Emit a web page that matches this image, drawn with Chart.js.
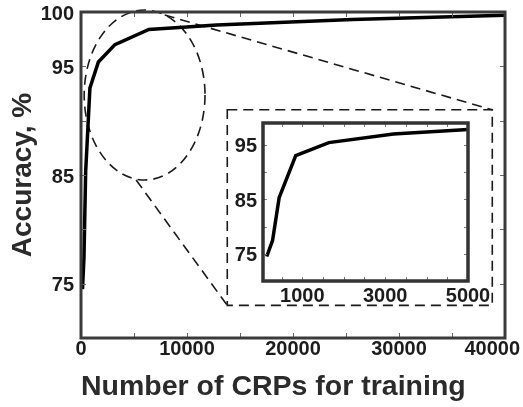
<!DOCTYPE html>
<html>
<head>
<meta charset="utf-8">
<script src="https://cdn.jsdelivr.net/npm/chart.js@4.4.0/dist/chart.umd.min.js"></script>
<style>
  html, body { margin: 0; padding: 0; background: #fff; }
  #wrap { position: relative; width: 523px; height: 407px; }
  #main { position: absolute; left: 0; top: 0; }
  #inset { position: absolute; left: 229px; top: 112px; }
</style>
</head>
<body>
<div id="wrap">
  <canvas id="main" width="523" height="407"></canvas>
  <canvas id="inset" width="262" height="192"></canvas>
</div>
<script>
// Training-set size (number of CRPs) and the accuracy reached with it
const crpCounts = [140, 280, 440, 840, 1640, 3200, 6400, 12800, 25600, 40000];
const accuracy  = [74.5, 77.4, 85.3, 93.0, 95.4, 97.0, 98.4, 98.8, 99.3, 99.7];

// Labelled ticks
const mainXLabels  = [0, 10000, 20000, 30000, 40000];
const mainYLabels  = [75, 85, 95, 100];
const insetXLabels = [1000, 3000, 5000];
const insetYLabels = [75, 85, 95];

const FONT = "'Liberation Sans', Arial, sans-serif";
const INK = '#1c1c1c';

const range = (a, b, s) => { const r = []; for (let v = a; v <= b + 1e-9; v += s) r.push(v); return r; };
const points = () => crpCounts.map((c, i) => ({ x: c, y: accuracy[i] }));
const noPad = s => { s.paddingLeft = s.paddingRight = s.paddingTop = s.paddingBottom = 0; };

// Box frame with short inward tick marks on all four sides
const framePlugin = {
  id: 'frame',
  afterDraw(chart, args, o) {
    const { ctx, chartArea: a, scales: { x, y } } = chart;
    ctx.save();
    ctx.strokeStyle = o.tickColor;
    ctx.lineWidth = 1;
    ctx.beginPath();
    x.ticks.forEach(t => {
      const p = Math.round(x.getPixelForValue(t.value)) + 0.5;
      ctx.moveTo(p, a.bottom); ctx.lineTo(p, a.bottom - o.tickLen);
      ctx.moveTo(p, a.top);    ctx.lineTo(p, a.top + o.tickLen);
    });
    y.ticks.forEach(t => {
      const p = Math.round(y.getPixelForValue(t.value)) + 0.5;
      ctx.moveTo(a.left, p);  ctx.lineTo(a.left + o.tickLen, p);
      ctx.moveTo(a.right, p); ctx.lineTo(a.right - o.tickLen, p);
    });
    ctx.stroke();
    ctx.strokeStyle = o.color;
    ctx.lineWidth = o.width;
    ctx.strokeRect(a.left, a.top, a.right - a.left, a.bottom - a.top);
    ctx.restore();
  }
};

// Bottom-axis numbers, placed at their scale positions but kept inside the canvas
const xNumbersPlugin = {
  id: 'xNumbers',
  afterDraw(chart, args, o) {
    const { ctx, chartArea: a, scales: { x }, width } = chart;
    ctx.save();
    ctx.font = `bold ${o.size}px ${FONT}`;
    ctx.fillStyle = INK;
    ctx.textAlign = 'center';
    ctx.textBaseline = 'top';
    o.values.forEach(v => {
      const s = String(v);
      const w = ctx.measureText(s).width;
      const px = Math.min(Math.max(x.getPixelForValue(v), w / 2), width - w / 2 - o.margin);
      ctx.fillText(s, px, a.bottom + o.gap);
    });
    ctx.restore();
  }
};

// Dashed ellipse around the knee of the curve, the box that holds the
// magnified view, and the two lines joining them (all in data units)
const zoomMarkerPlugin = {
  id: 'zoomMarker',
  beforeDatasetsDraw(chart, args, o) {
    const { ctx, scales: { x, y } } = chart;
    const X = v => x.getPixelForValue(v), Y = v => y.getPixelForValue(v);
    ctx.save();
    ctx.setLineDash(o.dash);
    ctx.lineWidth = o.width;
    ctx.strokeStyle = o.color;

    const e = o.ellipse;
    ctx.beginPath();
    ctx.ellipse(X(e.cx), Y(e.cy), X(e.cx + e.rx) - X(e.cx), Y(e.cy - e.ry) - Y(e.cy), 0, 0, Math.PI * 2);
    ctx.stroke();

    const b = o.box;
    ctx.beginPath();
    ctx.rect(X(b.x0), Y(b.y1), X(b.x1) - X(b.x0), Y(b.y0) - Y(b.y1));
    ctx.stroke();

    o.links.forEach(l => {
      ctx.beginPath();
      ctx.moveTo(X(l[0]), Y(l[1]));
      ctx.lineTo(X(l[2]), Y(l[3]));
      ctx.stroke();
    });
    ctx.restore();
  }
};

const tickFont = { family: FONT, size: 20, weight: 'bold' };

new Chart(document.getElementById('main'), {
  type: 'line',
  data: {
    datasets: [{
      data: points(),
      borderColor: '#000',
      borderWidth: 3.5,
      pointRadius: 0,
      tension: 0,
      fill: false
    }]
  },
  options: {
    responsive: false,
    animation: false,
    devicePixelRatio: 1,
    layout: { padding: { left: 0, top: 12, right: 18, bottom: 0 } },
    plugins: {
      legend: { display: false },
      tooltip: { enabled: false },
      frame: { color: '#3a3a3a', width: 3, tickColor: '#666', tickLen: 5 },
      xNumbers: { values: mainXLabels, size: 20, gap: 1.5, margin: 3 },
      zoomMarker: {
        color: '#1a1a1a', width: 1.6, dash: [10, 6],
        ellipse: { cx: 6000, cy: 92.36, rx: 5700, ry: 7.82 },
        box: { x0: 13800, x1: 38800, y0: 73.0, y1: 91.0 },
        links: [[7900, 99.72, 38800, 91.0], [5200, 84.54, 13800, 73.0]]
      }
    },
    scales: {
      x: {
        type: 'linear', min: 0, max: 40000,
        grid: { display: false, drawTicks: false },
        border: { display: false },
        afterBuildTicks: s => { s.ticks = range(0, 40000, 5000).map(v => ({ value: v })); },
        ticks: { display: false },
        title: {
          display: true, text: 'Number of CRPs for training', align: 'start',
          color: '#2b2b2b', font: { family: FONT, size: 28.5, weight: 'bold' },
          padding: { top: 0, bottom: 3 }
        },
        afterFit: s => { s.height = 69; noPad(s); }
      },
      y: {
        type: 'linear', min: 70, max: 100,
        grid: { display: false, drawTicks: false },
        border: { display: false },
        afterBuildTicks: s => { s.ticks = range(70, 100, 5).map(v => ({ value: v })); },
        ticks: {
          autoSkip: false, padding: 7, labelOffset: 2,
          color: INK, font: tickFont,
          callback: v => mainYLabels.includes(v) ? String(v) : ''
        },
        title: {
          display: true, text: 'Accuracy, %',
          color: '#2b2b2b', font: { family: FONT, size: 28, weight: 'bold' },
          padding: { top: 6.5, bottom: 0 }
        },
        afterFit: s => { s.width = 81; noPad(s); }
      }
    }
  },
  plugins: [framePlugin, zoomMarkerPlugin, xNumbersPlugin]
});

// Magnified view of the first 5000 CRPs
new Chart(document.getElementById('inset'), {
  type: 'line',
  data: {
    datasets: [{
      data: points(),
      borderColor: '#000',
      borderWidth: 3.5,
      pointRadius: 0,
      tension: 0,
      fill: false
    }]
  },
  options: {
    responsive: false,
    animation: false,
    devicePixelRatio: 1,
    layout: { padding: { left: 0, top: 11, right: 23, bottom: 0 } },
    plugins: {
      legend: { display: false },
      tooltip: { enabled: false },
      frame: { color: '#333', width: 3.5, tickColor: '#777', tickLen: 4 }
    },
    scales: {
      x: {
        type: 'linear', min: 50, max: 5000,
        grid: { display: false, drawTicks: false },
        border: { display: false },
        afterBuildTicks: s => { s.ticks = range(500, 5000, 500).map(v => ({ value: v })); },
        ticks: {
          autoSkip: false, maxRotation: 0, padding: 3,
          color: INK, font: tickFont,
          callback: v => insetXLabels.includes(v) ? String(v) : ''
        },
        afterFit: s => { s.height = 23; noPad(s); }
      },
      y: {
        type: 'linear', min: 70, max: 99,
        grid: { display: false, drawTicks: false },
        border: { display: false },
        afterBuildTicks: s => { s.ticks = range(70, 95, 5).map(v => ({ value: v })); },
        ticks: {
          autoSkip: false, padding: 6, labelOffset: 2,
          color: INK, font: tickFont,
          callback: v => insetYLabels.includes(v) ? String(v) : ''
        },
        afterFit: s => { s.width = 34; noPad(s); }
      }
    }
  },
  plugins: [framePlugin]
});
</script>
</body>
</html>
